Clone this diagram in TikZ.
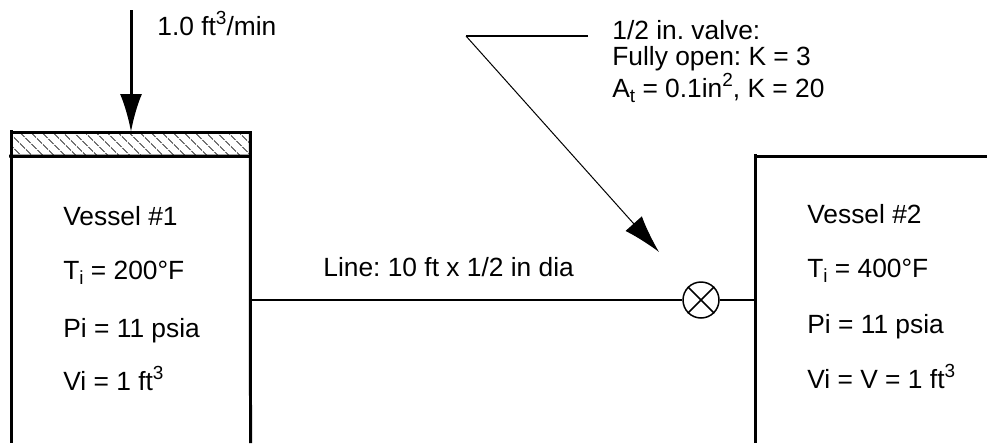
\documentclass[tikz,border=0pt]{standalone}
\usepackage{fontspec}
\setmainfont{Liberation Sans}
\usetikzlibrary{
  arrows.meta,
  positioning,
  patterns.meta
}
\newcommand{\upidx}[1]{\raisebox{5.7pt}{\fontsize{10.8pt}{12pt}\selectfont #1}}
\newcommand{\lowidx}[1]{\raisebox{-3.4pt}{\fontsize{10.8pt}{12pt}\selectfont #1}}

\begin{document}
\begin{tikzpicture}[
    x=0.02cm, y=-0.02cm,
    font=\fontsize{15pt}{17pt}\selectfont\frenchspacing,
    lbl/.style={anchor=base west, inner sep=0pt},
    wall/.style={line width=0.06cm},
    pipe/.style={line width=0.04cm},
    feed/.style={line width=0.06cm, -{Latex[length=0.76cm,width=0.44cm]}},
    leader/.style={line width=0.02cm, -{Latex[length=0.76cm,width=0.44cm]}},
    valve/.style={
      circle, draw, line width=0.03cm,
      minimum size=0.72cm, inner sep=0pt
    },
    piston/.style={
      rectangle, draw, line width=0.06cm, inner sep=0pt, outer sep=0pt,
      minimum width=4.78cm, minimum height=0.48cm,
      pattern={Lines[angle=-45,distance=0.156cm,line width=0.02cm]},
      pattern color=black!85
    },
  ]
  \useasboundingbox (0,0) rectangle (987,443);

  %% ── Vessel #1 ─────────────────────────────────────────────
  \node[piston] (cap) at (131,144) {};
  \coordinate (wall1a) at (11.5,130);
  \coordinate (wall1b) at (11.5,443);
  \coordinate (wall1c) at (250.5,443);
  \coordinate (lip1)   at (9,156);
  \draw[wall] (wall1a) -- (wall1b);
  \draw[wall] (cap.north east) -- (wall1c);
  \draw[wall] (lip1) -- (cap.south east);

  \node[lbl] (name1) at (63,225) {Vessel \#1};
  \node[lbl] (temp1) at (63,279) {T\lowidx{i} = 200°F};
  \node[lbl] (pres1) at (63,337) {Pi = 11 psia};
  \node[lbl] (vol1)  at (63,390) {Vi = 1 ft\upidx{3}};

  %% ── Inlet flow ────────────────────────────────────────────
  \coordinate (inlet) at (131,10);
  \draw[feed] (inlet) -- (cap.north);
  \node[lbl] (flow) at (157,35) {1.0 ft\upidx{3}/min};

  %% ── Vessel #2 ─────────────────────────────────────────────
  \coordinate (wall2a) at (755.5,154);
  \coordinate (wall2b) at (755.5,443);
  \coordinate (wall2c) at (755.5,156);
  \coordinate (wall2d) at (987,156);
  \draw[wall] (wall2a) -- (wall2b);
  \draw[wall] (wall2c) -- (wall2d);

  \node[lbl] (name2) at (807,223) {Vessel \#2};
  \node[lbl] (temp2) at (807,277) {T\lowidx{i} = 400°F};
  \node[lbl] (pres2) at (807,333) {Pi = 11 psia};
  \node[lbl] (vol2)  at (807,388) {Vi = V = 1 ft\upidx{3}};

  %% ── Line and valve ────────────────────────────────────────
  \node[valve] (vlv) at (701,300) {};
  \draw[line width=0.03cm] (vlv.45) -- (vlv.225);
  \draw[line width=0.03cm] (vlv.135) -- (vlv.315);
  \coordinate (port1) at (251,300);
  \coordinate (port2) at (756,300);
  \draw[pipe] (port1) -- (vlv.west);
  \draw[pipe] (vlv.east) -- (port2);
  \node[lbl] (linelbl) at (323,276) {Line: 10 ft x 1/2 in dia};

  %% ── Valve callout ─────────────────────────────────────────
  \coordinate (call1) at (588,36);
  \coordinate (call2) at (466,36);
  \coordinate (calltip) at (659,252);
  \draw[pipe] (call1) -- (call2);
  \draw[leader] (call2) -- (calltip);
  \node[lbl] (note1) at (612,39) {1/2 in. valve:};
  \node[lbl] (note2) at (612,65) {Fully open: K = 3};
  \node[lbl] (note3) at (612,97) {A\lowidx{t} = 0.1in\upidx{2}, K = 20};

\end{tikzpicture}
\end{document}
